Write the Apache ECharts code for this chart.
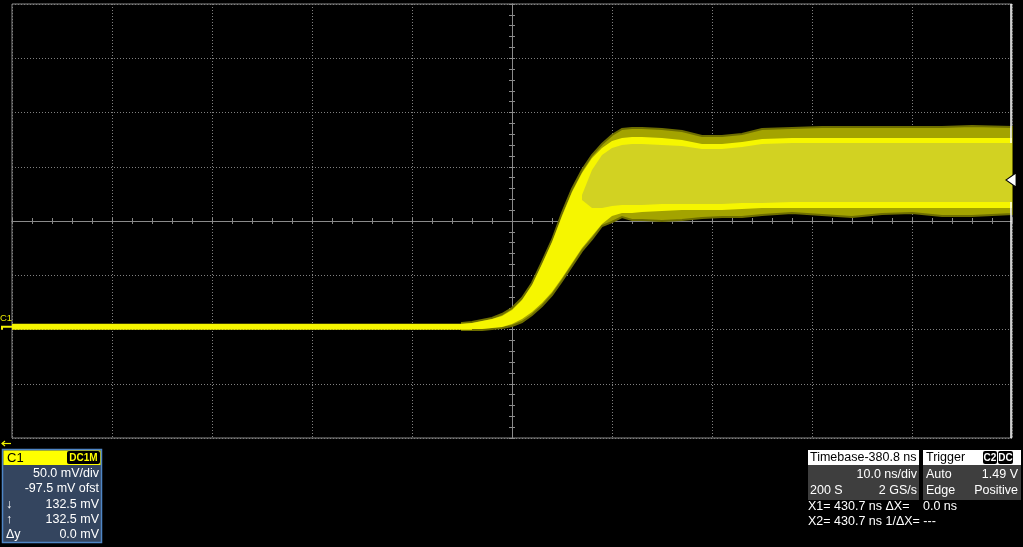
<!DOCTYPE html>
<html><head><meta charset="utf-8">
<script src="https://cdn.jsdelivr.net/npm/echarts@6/dist/echarts.min.js"></script>
<style>html,body{margin:0;padding:0;background:#000;overflow:hidden}#c{width:1023px;height:547px}</style>
</head><body><div id="c"></div>
<script>
// ---- data (time in ns, voltage in mV) ----
const flatTimesNs = [330.8, 376.8];
const flatMv = [0, 0];
const timesNs = [375.8, 376.8, 377.8, 378.8, 379.8, 380.8, 381.8, 382.8, 383.8, 384.8, 385.8, 386.8, 387.8, 388.8, 389.8, 390.8, 391.8, 392.8, 393.8, 395.8, 397.8, 399.8, 401.8, 403.8, 405.8, 408.8, 411.8, 414.8, 417.8, 420.8, 423.8, 426.8, 430.8];
const outerTopMv = [3.5, 4.4, 6.3, 8.1, 11.8, 17.3, 26.5, 40.4, 59.7, 80.0, 104.9, 127.0, 144.5, 158.3, 168.5, 176.8, 182.3, 183.2, 183.2, 182.3, 180.4, 175.8, 175.8, 177.7, 182.3, 183.2, 184.1, 184.1, 184.1, 184.1, 184.1, 185.1, 184.1];
const outerBottomMv = [-3.0, -3.0, -3.0, -2.0, -1.1, 0.7, 4.4, 10.9, 19.2, 29.3, 42.2, 56.0, 69.9, 80.9, 92.9, 96.6, 101.2, 98.4, 98.4, 97.5, 98.4, 100.3, 101.2, 101.2, 103.0, 104.9, 103.0, 101.2, 104.0, 104.9, 102.1, 102.1, 104.0];
const brightTopMv = [2.6, 3.5, 5.3, 7.2, 9.9, 15.5, 24.7, 38.5, 57.9, 78.1, 102.1, 124.2, 141.7, 155.6, 164.8, 171.2, 174.0, 174.9, 174.9, 174.0, 172.1, 168.5, 168.5, 170.3, 173.1, 174.0, 174.0, 174.0, 174.0, 174.0, 174.0, 174.0, 174.0];
const brightBottomMv = [-2.0, -2.0, -2.0, -1.1, -0.2, 2.6, 7.2, 13.7, 22.0, 32.1, 45.0, 58.8, 72.6, 83.7, 94.7, 102.1, 104.9, 104.9, 105.8, 106.7, 107.6, 107.6, 107.6, 108.6, 109.5, 109.5, 109.5, 109.5, 109.5, 109.5, 109.5, 109.5, 109.5];
const innerTimesNs = [387.8, 388.8, 389.8, 390.8, 391.8, 392.8, 393.8, 395.8, 397.8, 399.8, 401.8, 403.8, 405.8, 408.8, 411.8, 414.8, 417.8, 420.8, 423.8, 426.8, 430.8];
const innerTopMv = [121.5, 144.5, 158.3, 164.8, 167.5, 168.5, 168.5, 167.5, 166.6, 163.9, 163.9, 165.7, 168.5, 169.4, 169.4, 169.4, 169.4, 169.4, 169.4, 169.4, 169.4];
const innerBottomMv = [116.9, 109.5, 109.5, 111.3, 112.2, 112.2, 112.2, 113.2, 113.2, 113.2, 113.2, 114.1, 114.1, 115.0, 115.0, 115.0, 115.0, 115.0, 115.0, 115.0, 115.0];
const cursorNs = 430.7;
const cursorMv = 132.5;
// axis ranges
const timeMinNs = 330.8, timeMaxNs = 430.8;
const voltMinMv = -102.5, voltMaxMv = 297.5;
const hDivs = [-5, 5], vDivs = [-4, 4];

const FONT = "'Liberation Sans', Arial, sans-serif";
const chart = echarts.init(document.getElementById('c'), null, {renderer: 'canvas'});

function band(name, xs, tops, bots, fill, stroke, lw, z) {
  return {
    type: 'custom', name: name, xAxisIndex: 0, yAxisIndex: 0, z: z, silent: true,
    data: xs.map((t, i) => [t, tops[i], bots[i]]),
    encode: {x: 0, y: [1, 2]},
    renderItem: function (params, api) {
      if (params.dataIndex !== 0) return null;
      const pts = [];
      for (let i = 0; i < xs.length; i++) pts.push(api.coord([xs[i], tops[i]]));
      for (let i = xs.length - 1; i >= 0; i--) pts.push(api.coord([xs[i], bots[i]]));
      return {type: 'polygon', shape: {points: pts}, style: {fill: fill, stroke: stroke, lineWidth: lw}};
    }
  };
}

const gridColor = '#8a8a8a';
function divAxis(dim, inside, split) {
  return {
    type: 'value', gridIndex: 0,
    min: dim === 'x' ? hDivs[0] : vDivs[0], max: dim === 'x' ? hDivs[1] : vDivs[1], interval: 1,
    position: dim === 'x' ? 'bottom' : 'left',
    axisLine: {show: true, onZero: true, onZeroAxisIndex: 1, lineStyle: {color: gridColor, width: 1}},
    axisTick: {show: true, inside: inside, length: 3, lineStyle: {color: gridColor, width: 1}},
    minorTick: {show: true, splitNumber: 5, length: 3, lineStyle: {color: gridColor, width: 1}},
    axisLabel: {show: false},
    splitLine: {show: split, lineStyle: {color: '#808080', width: 1, type: [1, 2]}},
    minorSplitLine: {show: false}
  };
}

chart.setOption({
  animation: false,
  backgroundColor: '#000',
  grid: {show: true, left: 12, top: 4, width: 1000, height: 434, borderColor: gridColor, borderWidth: 1, backgroundColor: '#000'},
  xAxis: [
    {type: 'value', min: timeMinNs, max: timeMaxNs, show: false},
    divAxis('x', false, true),
    divAxis('x', true, false)
  ],
  yAxis: [
    {type: 'value', min: voltMinMv, max: voltMaxMv, show: false},
    divAxis('y', false, true),
    divAxis('y', true, false)
  ],
  series: [
    band('outer', timesNs, outerTopMv, outerBottomMv, '#a3a300', '#6e6e00', 2, 3),
    band('bright', timesNs, brightTopMv, brightBottomMv, '#f6f600', null, 0, 4),
    band('inner', innerTimesNs, innerTopMv, innerBottomMv, '#d2d222', null, 0, 5),
    {
      type: 'line', name: 'C1', xAxisIndex: 0, yAxisIndex: 0, z: 6, silent: true,
      data: flatTimesNs.map((t, i) => [t, flatMv[i]]),
      showSymbol: false, lineStyle: {color: '#f6f600', width: 6},
      markLine: {silent: true, symbol: 'none', label: {show: false}, animation: false,
        lineStyle: {color: '#ffffff', width: 1.5, type: 'solid'}, data: [{xAxis: cursorNs}]}
    },
    {
      type: 'scatter', name: 'cursor', xAxisIndex: 0, yAxisIndex: 0, z: 10, silent: true, clip: false,
      data: [[cursorNs, cursorMv]],
      symbol: 'triangle', symbolSize: [14, 10], symbolRotate: 90, symbolOffset: [0, -3],
      itemStyle: {color: '#ffffff', borderColor: '#000000', borderWidth: 1, opacity: 1}
    }
  ]
});

// ---- annotations / info panels ----
const y0 = chart.convertToPixel({xAxisIndex: 0, yAxisIndex: 0}, [timeMinNs, 0])[1];
function txt(x, y, s, o) {
  o = o || {};
  return {type: 'text', x: x, y: y, z: 100, silent: true,
    style: {text: s, fill: o.fill || '#fff', font: (o.weight || 'normal') + ' ' + (o.size || 12.5) + 'px ' + FONT,
      align: o.align || 'left', verticalAlign: 'middle'}};
}
function rect(x, y, w, h, fill, stroke, r) {
  return {type: 'rect', z: 90, silent: true, shape: {x: x, y: y, width: w, height: h, r: r || 0},
    style: {fill: fill, stroke: stroke || null, lineWidth: stroke ? 1.5 : 0}};
}
const g = [];
// C1 ground marker
g.push(txt(0, y0 - 8, 'C1', {fill: '#e8e800', size: 9.5}));
g.push({type: 'polyline', z: 100, silent: true, shape: {points: [[2, y0 + 3], [2, y0], [12, y0]]}, style: {stroke: '#f4f400', lineWidth: 2, fill: null}});
// trigger position arrow (bottom-left)
g.push({type: 'polyline', z: 100, silent: true, shape: {points: [[5, 441], [2, 443.5], [5, 446]]}, style: {stroke: '#f4f400', lineWidth: 1.2, fill: null}});
g.push({type: 'line', z: 100, silent: true, shape: {x1: 2, y1: 443.5, x2: 11, y2: 443.5}, style: {stroke: '#f4f400', lineWidth: 1.2}});
// C1 panel
g.push(rect(2.5, 449.5, 99, 93, '#34455f', '#4f86c6'));
g.push(rect(3.5, 450.5, 97, 14.5, '#ffff00'));
g.push(txt(7, 458, 'C1', {fill: '#000', size: 13}));
g.push(rect(67, 451, 33, 13, '#000', null, 2));
g.push(txt(83.5, 458, 'DC1M', {fill: '#ffff00', size: 10, align: 'center', weight: 'bold'}));
g.push(txt(99, 474, '50.0 mV/div', {align: 'right'}));
g.push(txt(99, 489, '-97.5 mV ofst', {align: 'right'}));
g.push(txt(99, 505, '132.5 mV', {align: 'right'}));
g.push(txt(99, 520, '132.5 mV', {align: 'right'}));
g.push(txt(99, 535, '0.0 mV', {align: 'right'}));
g.push(txt(6, 505, '↓', {}));
g.push(txt(6, 520, '↑', {}));
g.push(txt(6, 535, 'Δy', {}));
// Timebase panel
g.push(rect(808, 450, 111, 15, '#ffffff'));
g.push(rect(808, 465, 111, 35, '#3e3e3e'));
g.push(txt(810, 458, 'Timebase-380.8 ns', {fill: '#000', size: 12.5}));
g.push(txt(917, 475, '10.0 ns/div', {align: 'right'}));
g.push(txt(810, 491, '200 S', {}));
g.push(txt(917, 491, '2 GS/s', {align: 'right'}));
// Trigger panel
g.push(rect(923, 450, 98, 15, '#ffffff'));
g.push(rect(923, 465, 98, 35, '#3e3e3e'));
g.push(txt(926, 458, 'Trigger', {fill: '#000', size: 12.5}));
g.push(rect(983, 451, 14, 13, '#000', null, 2));
g.push(txt(990, 458, 'C2', {size: 10, align: 'center', weight: 'bold'}));
g.push(rect(998, 451, 15, 13, '#000', null, 2));
g.push(txt(1005.5, 458, 'DC', {size: 10, align: 'center', weight: 'bold'}));
g.push(txt(926, 475, 'Auto', {}));
g.push(txt(1018, 475, '1.49 V', {align: 'right'}));
g.push(txt(926, 491, 'Edge', {}));
g.push(txt(1018, 491, 'Positive', {align: 'right'}));
// cursor readouts
g.push(txt(808, 507, 'X1= 430.7 ns ΔX=', {}));
g.push(txt(923, 507, '0.0 ns', {}));
g.push(txt(808, 522, 'X2= 430.7 ns 1/ΔX= ---', {}));
chart.setOption({graphic: {elements: g}});
</script>
</body></html>
